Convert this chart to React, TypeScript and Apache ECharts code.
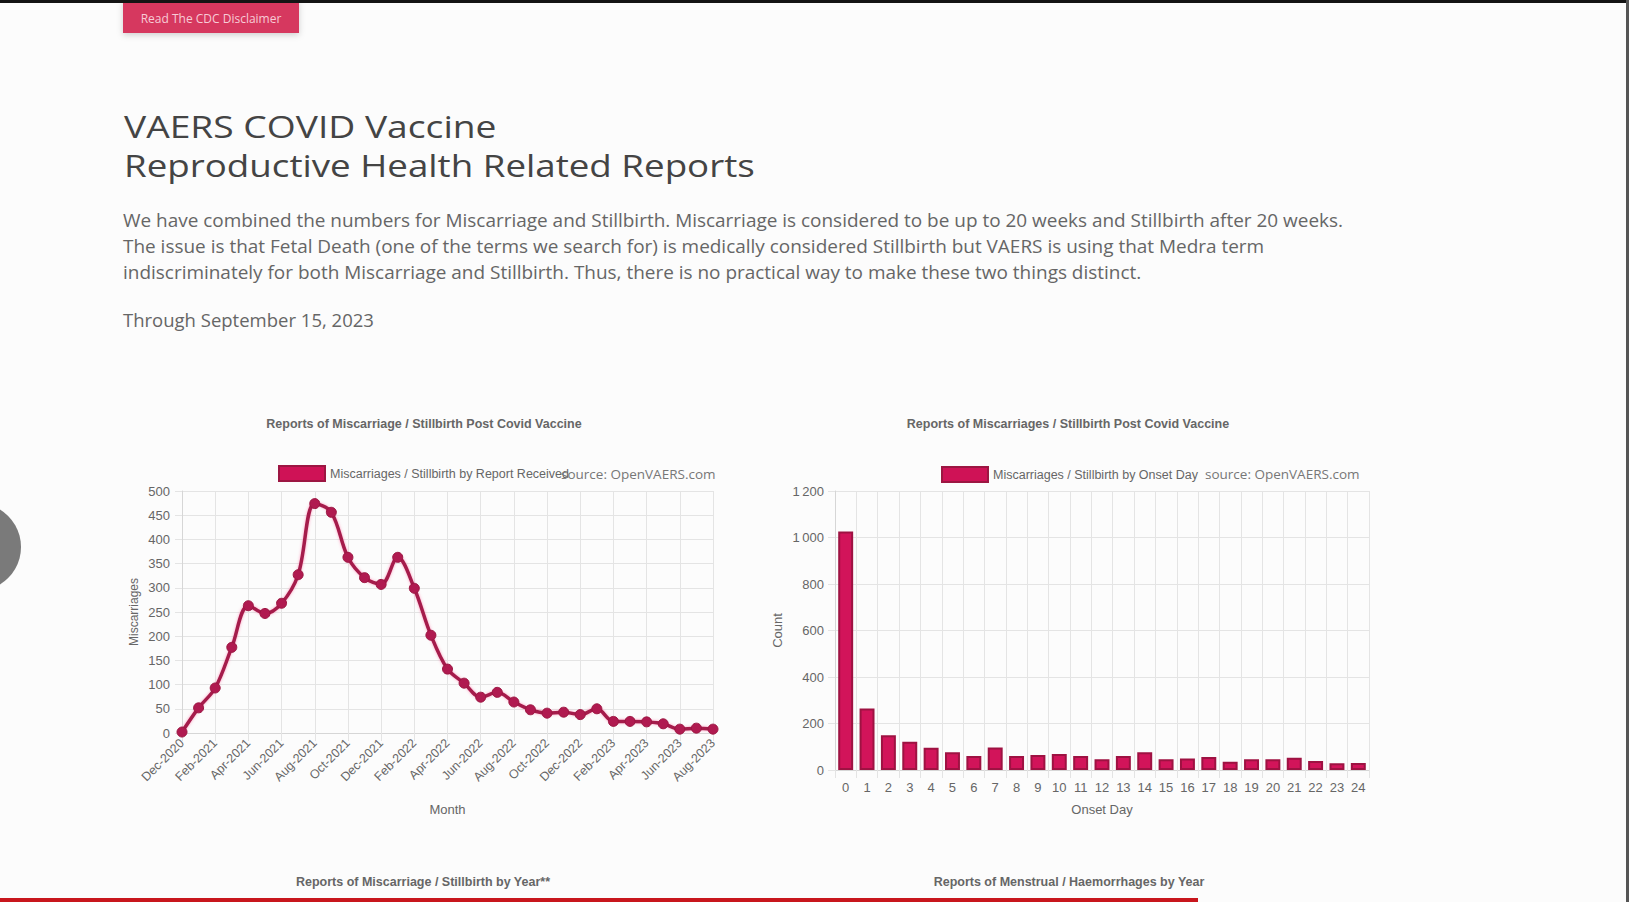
import React, { useEffect, useRef } from "react";
import * as echarts from "echarts";

const months = [
  "Dec-2020", "Jan-2021", "Feb-2021", "Mar-2021", "Apr-2021", "May-2021", "Jun-2021", "Jul-2021",
  "Aug-2021", "Sep-2021", "Oct-2021", "Nov-2021", "Dec-2021", "Jan-2022", "Feb-2022", "Mar-2022",
  "Apr-2022", "May-2022", "Jun-2022", "Jul-2022", "Aug-2022", "Sep-2022", "Oct-2022", "Nov-2022",
  "Dec-2022", "Jan-2023", "Feb-2023", "Mar-2023", "Apr-2023", "May-2023", "Jun-2023", "Jul-2023",
  "Aug-2023",
];
const monthlyReports = [
  2, 52, 93, 177, 263, 247, 268, 327, 474, 456, 363, 321, 307, 363, 299, 202, 132, 103, 74, 84, 64,
  48, 41, 43, 38, 50, 24, 24, 23, 19, 8, 10, 8,
];
const onsetDays = [
  "0", "1", "2", "3", "4", "5", "6", "7", "8", "9", "10", "11", "12", "13", "14", "15", "16", "17",
  "18", "19", "20", "21", "22", "23", "24",
];
const onsetCounts = [
  1026, 264, 150, 121, 96, 76, 60, 97, 60, 64, 69, 60, 46, 60, 76, 46, 49, 56, 36, 46, 46, 53, 39, 29, 30,
];
const leftYTicks = { min: 0, max: 500, interval: 50 };
const rightYTicks = { min: 0, max: 1200, interval: 200 };

const headingLines = ["VAERS COVID Vaccine", "Reproductive Health Related Reports"];
const headingScale = [1.2, 1.185];
const paragraphLines = [
  "We have combined the numbers for Miscarriage and Stillbirth. Miscarriage is considered to be up to 20 weeks and Stillbirth after 20 weeks.",
  "The issue is that Fetal Death (one of the terms we search for) is medically considered Stillbirth but VAERS is using that Medra term",
  "indiscriminately for both Miscarriage and Stillbirth. Thus, there is no practical way to make these two things distinct.",
];
const throughLine = "Through September 15, 2023";

const CHART_FONT = "'Liberation Sans', Arial, sans-serif";
const PAGE_FONT = "'Open Sans', 'Noto Sans', sans-serif";
const GRID_COLOR = "#e4e4e4";
const TEXT_COLOR = "#666";

export default function App() {
  const ref = useRef<HTMLDivElement>(null);

  useEffect(() => {
    document.body.style.margin = "0";
    const chart = echarts.init(ref.current!, null, { renderer: "svg" });

    const lineName = "Miscarriages / Stillbirth by Report Received";
    const barName = "Miscarriages / Stillbirth by Onset Day";

    const fmtThousands = (v: number) =>
      v >= 1000 ? `${Math.floor(v / 1000)}\u202f${String(v % 1000).padStart(3, "0")}` : String(v);

    const pageText = (
      x: number,
      y: number,
      text: string,
      size: number,
      color: string,
      scaleX = 1,
      extra: any = {},
      z = 50
    ) => ({
      type: "text",
      x,
      y,
      scaleX,
      z,
      style: {
        text,
        fill: color,
        fontSize: size,
        fontFamily: PAGE_FONT,
        textVerticalAlign: "middle",
        ...extra,
      },
      silent: true,
    });
    const chartTitle = (x: number, y: number, text: string) => ({
      type: "text",
      x,
      y,
      style: {
        text,
        fill: TEXT_COLOR,
        fontSize: 12.5,
        fontWeight: "bold",
        fontFamily: CHART_FONT,
        textAlign: "center",
        textVerticalAlign: "middle",
      },
      silent: true,
    });

    const legendBase = {
      itemWidth: 46,
      itemHeight: 15,
      selectedMode: false,
      textStyle: { color: TEXT_COLOR, fontSize: 12.5, fontFamily: CHART_FONT },
    };
    const legendItemStyle = { color: "#cf1256", borderColor: "#9c1642", borderWidth: 2 };

    chart.setOption({
      animation: false,
      backgroundColor: "#fcfcfc",
      textStyle: { fontFamily: CHART_FONT },
      legend: [
        { ...legendBase, left: 273, top: 460, data: [{ name: lineName, icon: "rect", itemStyle: legendItemStyle }] },
        { ...legendBase, left: 936, top: 461, data: [{ name: barName, icon: "rect", itemStyle: legendItemStyle }] },
      ],
      grid: [
        { left: 182, top: 491, width: 531, height: 242, containLabel: false },
        { left: 835, top: 491, width: 534, height: 279, containLabel: false },
      ],
      xAxis: [
        {
          gridIndex: 0,
          type: "category",
          data: months,
          boundaryGap: false,
          name: "Month",
          nameLocation: "middle",
          nameGap: 70,
          nameTextStyle: { color: TEXT_COLOR, fontSize: 13 },
          axisLine: { show: true, lineStyle: { color: "#d6d6d6" } },
          axisTick: { show: true, interval: 1, length: 8, lineStyle: { color: GRID_COLOR } },
          axisLabel: { interval: 1, rotate: 45, color: TEXT_COLOR, fontSize: 12.5, margin: 8 },
          splitLine: { show: true, interval: 1, lineStyle: { color: GRID_COLOR } },
        },
        {
          gridIndex: 1,
          type: "category",
          data: onsetDays,
          boundaryGap: true,
          name: "Onset Day",
          nameLocation: "middle",
          nameGap: 33,
          nameTextStyle: { color: TEXT_COLOR, fontSize: 13 },
          axisLine: { show: true, lineStyle: { color: "#d6d6d6" } },
          axisTick: { show: true, length: 8, lineStyle: { color: GRID_COLOR } },
          axisLabel: { interval: 0, color: TEXT_COLOR, fontSize: 13, margin: 11 },
          splitLine: { show: true, interval: 0, lineStyle: { color: GRID_COLOR } },
        },
      ],
      yAxis: [
        {
          gridIndex: 0,
          type: "value",
          ...leftYTicks,
          name: "Miscarriages",
          nameLocation: "middle",
          nameGap: 42,
          nameTextStyle: { color: TEXT_COLOR, fontSize: 12 },
          axisLine: { show: true, lineStyle: { color: "#d6d6d6" } },
          axisTick: { show: true, length: 7, lineStyle: { color: GRID_COLOR } },
          axisLabel: { color: TEXT_COLOR, fontSize: 13, margin: 12 },
          splitLine: { show: true, lineStyle: { color: GRID_COLOR } },
        },
        {
          gridIndex: 1,
          type: "value",
          ...rightYTicks,
          name: "Count",
          nameLocation: "middle",
          nameGap: 51,
          nameTextStyle: { color: TEXT_COLOR, fontSize: 13 },
          axisLine: { show: true, lineStyle: { color: "#d6d6d6" } },
          axisTick: { show: true, length: 7, lineStyle: { color: GRID_COLOR } },
          axisLabel: { color: TEXT_COLOR, fontSize: 13, margin: 11, formatter: fmtThousands },
          splitLine: { show: true, lineStyle: { color: GRID_COLOR } },
        },
      ],
      series: [
        {
          name: lineName,
          type: "line",
          xAxisIndex: 0,
          yAxisIndex: 0,
          data: monthlyReports,
          smooth: 0.35,
          symbol: "circle",
          symbolSize: 10,
          lineStyle: {
            color: "#a51b4c",
            width: 3.5,
            shadowColor: "rgba(255,80,140,0.55)",
            shadowBlur: 3,
          },
          itemStyle: { color: "#b01a50", borderColor: "#9c1642", borderWidth: 1 },
        },
        {
          name: barName,
          type: "bar",
          xAxisIndex: 1,
          yAxisIndex: 1,
          data: onsetCounts,
          barWidth: "70%",
          itemStyle: { color: "#d2145a", borderColor: "#9e1242", borderWidth: 2 },
        },
      ],
      graphic: [
        // page frame
        { type: "rect", shape: { x: 0, y: 0, width: 1629, height: 3 }, style: { fill: "#141414" }, z: 100 },
        { type: "rect", shape: { x: 1626, y: 0, width: 3, height: 902 }, style: { fill: "#555" }, z: 100 },
        { type: "circle", shape: { cx: -23, cy: 547, r: 44 }, style: { fill: "#7a7a7a" }, z: 100 },
        { type: "rect", shape: { x: 0, y: 898, width: 1198, height: 4 }, style: { fill: "#c8161d" }, z: 100 },
        // button
        {
          type: "rect",
          shape: { x: 123, y: 0, width: 176, height: 33 },
          style: { fill: "#d6375f", shadowColor: "rgba(0,0,0,0.18)", shadowBlur: 6, shadowOffsetY: 2 },
          z: 90,
        },
        pageText(211, 18, "Read The CDC Disclaimer", 12, "#f7cbd6", 1, { textAlign: "center" }, 95),
        // heading
        ...headingLines.map((line, i) => pageText(124, 126 + i * 39, line, 31, "#444", headingScale[i])),
        ...paragraphLines.map((line, i) => pageText(123, 220 + i * 26, line, 18.5, "#666", 1.025)),
        pageText(123, 319, throughLine, 18.5, "#666", 1.0),
        // chart titles
        chartTitle(424, 424, "Reports of Miscarriage / Stillbirth Post Covid Vaccine"),
        chartTitle(1068, 424, "Reports of Miscarriages / Stillbirth Post Covid Vaccine"),
        chartTitle(423, 882, "Reports of Miscarriage / Stillbirth by Year**"),
        chartTitle(1069, 882, "Reports of Menstrual / Haemorrhages by Year"),
        pageText(561, 474, "source: OpenVAERS.com", 13.5, "#777"),
        pageText(1205, 474, "source: OpenVAERS.com", 13.5, "#777"),
      ],
    });

    return () => chart.dispose();
  }, []);

  return <div ref={ref} style={{ width: 1629, height: 902 }} />;
}
